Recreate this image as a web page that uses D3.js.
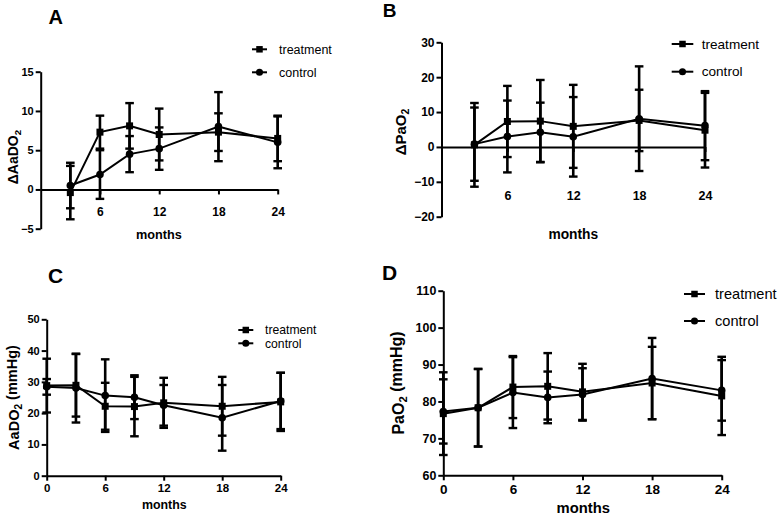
<!DOCTYPE html>
<html><head><meta charset="utf-8">
<script src="https://cdn.jsdelivr.net/npm/d3@7"></script>
<style>
body{margin:0;background:#fff}
svg{display:block}
text{font-family:"Liberation Sans",Arial,sans-serif;fill:#000}
</style>
</head><body>
<svg id="chart" width="778" height="516"></svg>
<script>
// ---------- data ----------
const seriesNames = ["treatment", "control"];
const monthsAB = [3, 6, 9, 12, 18, 24];
const monthsCD = [0, 3, 6, 9, 12, 18, 24];

// Panel A: ΔAaDO2
const A_treatMean = [-0.4, 7.3, 8.1, 7.0, 7.3, 6.5];
const A_treatSD   = [3.4, 2.1, 2.9, 3.3, 2.4, 2.9];
const A_ctrlMean  = [0.5, 1.9, 4.5, 5.2, 8.0, 6.0];
const A_ctrlSD    = [2.9, 3.1, 2.3, 2.7, 4.4, 3.3];

// Panel B: ΔPaO2
const B_treatMean = [0.6, 7.3, 7.4, 5.9, 7.6, 4.8];
const B_treatSD   = [12.0, 10.2, 11.8, 11.9, 8.8, 10.7];
const B_ctrlMean  = [0.8, 3.0, 4.2, 2.9, 8.1, 6.1];
const B_ctrlSD    = [10.5, 10.3, 8.5, 11.4, 15.0, 9.9];

// Panel C: AaDO2 (mmHg)
const C_treatMean = [28.8, 28.9, 22.2, 22.1, 23.3, 22.2, 23.6];
const C_treatSD   = [8.6, 10.0, 7.5, 9.5, 8.0, 9.4, 9.3];
const C_ctrlMean  = [28.4, 28.0, 25.6, 25.1, 22.5, 18.5, 23.9];
const C_ctrlSD    = [2.5, 11.0, 11.6, 7.0, 6.5, 10.5, 9.0];

// Panel D: PaO2 (mmHg)
const D_treatMean = [76.7, 78.3, 83.9, 84.1, 82.6, 85.0, 81.5];
const D_treatSD   = [11.2, 10.5, 8.4, 9.0, 7.6, 9.8, 10.6];
const D_ctrlMean  = [77.3, 78.3, 82.4, 81.1, 81.9, 86.2, 83.0];
const D_ctrlSD    = [8.7, 10.5, 9.6, 7.0, 7.1, 11.0, 8.2];

const xTicksAB = [6, 12, 18, 24];
const xTicksCD = [0, 6, 12, 18, 24];
const yTicksA = [-5, 0, 5, 10, 15];
const yTicksB = [-20, -10, 0, 10, 20, 30];
const yTicksC = [0, 10, 20, 30, 40, 50];
const yTicksD = [60, 70, 80, 90, 100, 110];

// ---------- drawing ----------
const svg = d3.select("#chart");
const FONT = '"Liberation Sans",Arial,sans-serif';

function makeSeries(months, mean, sd) {
  return months.map((m, i) => ({m: m, v: mean[i], sd: sd[i]}));
}

function drawMarker(g, kind, cx, cy, s) {
  if (kind === "treatment") {
    g.append("rect").attr("x", cx - s / 2).attr("y", cy - s / 2)
      .attr("width", s).attr("height", s).attr("fill", "#000");
  } else {
    g.append("circle").attr("cx", cx).attr("cy", cy).attr("r", s / 2 + 0.3).attr("fill", "#000");
  }
}

function panel(cfg) {
  const g = svg.append("g");
  const x = d3.scaleLinear().domain([0, 24]).range([cfg.x0, cfg.x1]);
  const y = d3.scaleLinear().domain(cfg.yDomain).range([cfg.yBottom, cfg.yTop]);

  // y axis
  const ya = g.append("g").attr("transform", `translate(${cfg.x0},0)`)
    .call(d3.axisLeft(y).tickValues(cfg.yTicks).tickSize(5).tickPadding(2).tickSizeOuter(0));
  ya.select(".domain").attr("stroke", "#000").attr("stroke-width", 2);
  ya.selectAll(".tick line").attr("stroke", "#000").attr("stroke-width", 2);
  ya.selectAll(".tick text").attr("font-family", FONT).attr("font-weight", "bold")
    .attr("font-size", cfg.tickFont).attr("fill", "#000");

  // x axis
  const xa = g.append("g").attr("transform", `translate(0,${y(cfg.xAxisAt)})`)
    .call(d3.axisBottom(x).tickValues(cfg.xTicks).tickSize(5).tickPadding(cfg.xPad).tickSizeOuter(0));
  xa.select(".domain").attr("stroke", "#000").attr("stroke-width", 2);
  xa.selectAll(".tick line").attr("stroke", "#000").attr("stroke-width", 2);
  xa.selectAll(".tick text").attr("font-family", FONT).attr("font-weight", "bold")
    .attr("font-size", cfg.xTickFont).attr("fill", "#000");

  const line = d3.line().x(d => x(d.m)).y(d => y(d.v));

  cfg.series.forEach(s => {
    // error bars
    const eb = g.append("g");
    s.data.forEach(d => {
      const cx = x(d.m);
      eb.append("line").attr("x1", cx).attr("x2", cx)
        .attr("y1", y(d.v - d.sd)).attr("y2", y(d.v + d.sd))
        .attr("stroke", "#000").attr("stroke-width", 2.6);
      [d.v - d.sd, d.v + d.sd].forEach(e => {
        eb.append("line").attr("x1", cx - 4.3).attr("x2", cx + 4.3)
          .attr("y1", y(e)).attr("y2", y(e))
          .attr("stroke", "#000").attr("stroke-width", 2.4);
      });
    });
  });
  cfg.series.forEach(s => {
    g.append("path").datum(s.data).attr("d", line)
      .attr("fill", "none").attr("stroke", "#000").attr("stroke-width", 2);
    s.data.forEach(d => drawMarker(g, s.name, x(d.m), y(d.v), 7));
  });

  // legend
  cfg.series.forEach((s, i) => {
    const ly = cfg.legend.y[i];
    g.append("line").attr("x1", cfg.legend.x0).attr("x2", cfg.legend.x1)
      .attr("y1", ly).attr("y2", ly).attr("stroke", "#000").attr("stroke-width", 2);
    drawMarker(g, s.name, (cfg.legend.x0 + cfg.legend.x1) / 2, ly, 6.5);
    g.append("text").attr("x", cfg.legend.tx).attr("y", ly).attr("dy", "0.35em")
      .attr("font-size", cfg.legend.font).text(s.name);
  });

  // axis title (x)
  g.append("text").attr("x", cfg.monthsPos[0]).attr("y", cfg.monthsPos[1]).attr("dy", "0.35em")
    .attr("text-anchor", "middle").attr("font-weight", "bold").attr("font-size", cfg.monthsFont)
    .text("months");

  // y title
  const yt = g.append("text")
    .attr("transform", `translate(${cfg.yLabelPos[0]},${cfg.yLabelPos[1]}) rotate(-90)`)
    .attr("text-anchor", "middle").attr("dy", "0.35em")
    .attr("font-weight", "bold").attr("font-size", cfg.yLabelFont);
  yt.append("tspan").text(cfg.yLabel[0]);
  yt.append("tspan").attr("font-size", cfg.yLabelFont * 0.7).attr("dy", "0.3em").text("2");
  if (cfg.yLabel[1]) yt.append("tspan").attr("dy", "-0.3em").attr("font-size", cfg.yLabelFont).text(cfg.yLabel[1]);

  // panel letter
  g.append("text").attr("x", cfg.letterPos[0]).attr("y", cfg.letterPos[1])
    .attr("text-anchor", "middle").attr("font-weight", "bold").attr("font-size", cfg.letterFont)
    .text(cfg.letter);
}

panel({
  letter: "A", letterPos: [55.7, 24], letterFont: 20,
  x0: 40.7, x1: 277.7, yTop: 71.7, yBottom: 228.7, yDomain: [-5, 15], xAxisAt: 0,
  yTicks: yTicksA, xTicks: xTicksAB, xPad: 13, tickFont: 11, xTickFont: 12,
  series: [
    {name: seriesNames[0], data: makeSeries(monthsAB, A_treatMean, A_treatSD)},
    {name: seriesNames[1], data: makeSeries(monthsAB, A_ctrlMean, A_ctrlSD)}
  ],
  legend: {x0: 252, x1: 267, tx: 279, y: [49.3, 72.3], font: 12.5},
  monthsPos: [159, 235], monthsFont: 12.7,
  yLabel: ["\u0394AaDO", ""], yLabelPos: [13, 157], yLabelFont: 14
});

panel({
  letter: "B", letterPos: [389.5, 17], letterFont: 19,
  x0: 441.5, x1: 705, yTop: 42.3, yBottom: 216.7, yDomain: [-20, 30], xAxisAt: 0,
  yTicks: yTicksB, xTicks: xTicksAB, xPad: 39, tickFont: 12, xTickFont: 12.5,
  series: [
    {name: seriesNames[0], data: makeSeries(monthsAB, B_treatMean, B_treatSD)},
    {name: seriesNames[1], data: makeSeries(monthsAB, B_ctrlMean, B_ctrlSD)}
  ],
  legend: {x0: 671.7, x1: 693.3, tx: 701.7, y: [44, 71.7], font: 13.6},
  monthsPos: [573.3, 234.3], monthsFont: 13.8,
  yLabel: ["\u0394PaO", ""], yLabelPos: [401, 132], yLabelFont: 15
});

panel({
  letter: "C", letterPos: [55.5, 283], letterFont: 21,
  x0: 46.7, x1: 280.7, yTop: 319.3, yBottom: 475.7, yDomain: [0, 50], xAxisAt: 0,
  yTicks: yTicksC, xTicks: xTicksCD, xPad: 3.5, tickFont: 11, xTickFont: 11.5,
  series: [
    {name: seriesNames[0], data: makeSeries(monthsCD, C_treatMean, C_treatSD)},
    {name: seriesNames[1], data: makeSeries(monthsCD, C_ctrlMean, C_ctrlSD)}
  ],
  legend: {x0: 238.3, x1: 253.3, tx: 265, y: [330, 343.3], font: 12.2},
  monthsPos: [164.3, 505], monthsFont: 12.4,
  yLabel: ["AaDO", " (mmHg)"], yLabelPos: [13.5, 397.5], yLabelFont: 14.5
});

panel({
  letter: "D", letterPos: [389.5, 280], letterFont: 21,
  x0: 443.3, x1: 721.7, yTop: 290.7, yBottom: 475.3, yDomain: [60, 110], xAxisAt: 60,
  yTicks: yTicksD, xTicks: xTicksCD, xPad: 4, tickFont: 12.4, xTickFont: 13.5,
  series: [
    {name: seriesNames[0], data: makeSeries(monthsCD, D_treatMean, D_treatSD)},
    {name: seriesNames[1], data: makeSeries(monthsCD, D_ctrlMean, D_ctrlSD)}
  ],
  legend: {x0: 684, x1: 705, tx: 715, y: [294, 321], font: 14.6},
  monthsPos: [583.3, 508.3], monthsFont: 14.8,
  yLabel: ["PaO", " (mmHg)"], yLabelPos: [398, 383], yLabelFont: 16
});
</script>
</body></html>
